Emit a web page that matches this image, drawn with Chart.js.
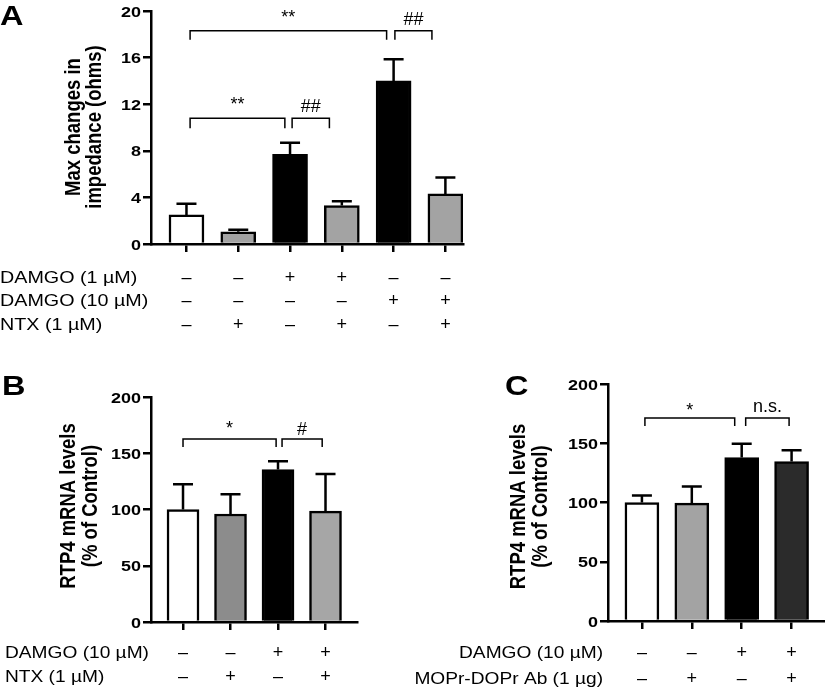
<!DOCTYPE html>
<html>
<head>
<meta charset="utf-8">
<script src="https://cdn.jsdelivr.net/npm/chart.js@4.4.1/dist/chart.umd.min.js"></script>
<style>
  body { margin: 0; background: #fff; }
  #wrap { position: relative; width: 825px; height: 690px; }
  #wrap canvas { position: absolute; left: 0; top: 0; }
</style>
</head>
<body>
<div id="wrap">
  <canvas id="chartA" width="825" height="690"></canvas>
  <canvas id="chartB" width="825" height="690"></canvas>
  <canvas id="chartC" width="825" height="690"></canvas>
</div>
<script>
// ---- panel A: impedance ----
const damgo1A = ['–', '–', '+', '+', '–', '–'];
const damgo10A = ['–', '–', '–', '–', '+', '+'];
const ntxA = ['–', '+', '–', '+', '–', '+'];
const meanA = [2.5, 1.05, 7.7, 3.3, 14.0, 4.3];
const semA = [0.95, 0.17, 1.0, 0.37, 1.85, 1.4];
const colorsA = ['#ffffff', '#a3a3a3', '#000000', '#a3a3a3', '#000000', '#a3a3a3'];

// ---- panel B: RTP4 mRNA, NTX ----
const damgo10B = ['–', '–', '+', '+'];
const ntxB = ['–', '+', '–', '+'];
const meanB = [100, 96, 135.5, 98.5];
const semB = [22.5, 17.5, 7.3, 33];
const colorsB = ['#ffffff', '#8c8c8c', '#000000', '#a6a6a6'];

// ---- panel C: RTP4 mRNA, MOPr-DOPr antibody ----
const damgo10C = ['–', '–', '+', '+'];
const abC = ['–', '+', '–', '+'];
const meanC = [100, 99.5, 138, 134.5];
const semC = [6, 14, 11.5, 9.5];
const colorsC = ['#ffffff', '#a3a3a3', '#000000', '#2b2b2b'];

const FONT = "'Liberation Sans', Arial, Helvetica, sans-serif";
const STRETCH = 1.16; // the figure is a bit wider than tall

function drawText(ctx, text, x, y, o) {
    ctx.save();
    ctx.translate(x, y);
    if (o.rotate) {
        ctx.rotate(-Math.PI / 2);
        ctx.scale(1, o.sx || 1);
    } else {
        ctx.scale(o.sx || 1, 1);
    }
    ctx.font = (o.bold ? 'bold ' : '') + o.size + 'px ' + FONT;
    ctx.textAlign = o.align || 'left';
    ctx.textBaseline = o.baseline || 'alphabetic';
    ctx.fillStyle = '#000';
    ctx.fillText(text, 0, 0);
    ctx.restore();
}

function extrasPlugin(p) {
    return {
        id: 'extras' + p.letter,
        afterDraw(chart) {
            const ctx = chart.ctx;
            const xs = chart.scales.x, ys = chart.scales.y;
            ctx.save();
            ctx.strokeStyle = '#000';

            // y tick labels, stretched like the rest of the figure text
            ys.ticks.forEach(t => {
                const py = ys.getPixelForValue(t.value);
                drawText(ctx, String(t.value), ys.right - 10, py + 5.6, { size: 15.5, bold: true, align: 'right', sx: STRETCH });
            });

            // error bars (mean + SEM)
            ctx.lineWidth = 2.5;
            p.mean.forEach((m, i) => {
                const px = xs.getPixelForValue(i);
                const y0 = ys.getPixelForValue(m);
                const y1 = ys.getPixelForValue(m + p.sem[i]);
                ctx.beginPath();
                ctx.moveTo(px, y0);
                ctx.lineTo(px, y1);
                ctx.moveTo(px - 10, y1);
                ctx.lineTo(px + 10, y1);
                ctx.stroke();
            });

            // significance brackets
            ctx.lineWidth = 1.5;
            p.brackets.forEach(b => {
                const x1 = xs.getPixelForValue(b.from);
                const x2 = xs.getPixelForValue(b.to);
                const yt = ys.getPixelForValue(b.y);
                ctx.beginPath();
                ctx.moveTo(x1, yt + b.leg);
                ctx.lineTo(x1, yt);
                ctx.lineTo(x2, yt);
                ctx.lineTo(x2, yt + b.leg);
                ctx.stroke();
                drawText(ctx, b.text, (x1 + x2) / 2, yt - b.lift, { size: 18, align: 'center' });
            });

            // treatment rows under the axis
            p.rows.forEach(r => {
                drawText(ctx, r.label, p.labelX, r.y, { size: p.labelSize, align: p.labelAlign, sx: STRETCH });
                r.signs.forEach((s, i) => {
                    drawText(ctx, s, xs.getPixelForValue(i), r.y, { size: 18, align: 'center' });
                });
            });

            // y axis title, two lines
            p.title.forEach((t, i) => {
                drawText(ctx, t, p.titleX[i], p.titleY, { size: 18.5, bold: true, align: 'center', rotate: true, sx: STRETCH });
            });

            // panel letter
            drawText(ctx, p.letter, p.letterX, p.letterY, { size: 28, bold: true, sx: STRETCH });
            ctx.restore();
        }
    };
}

function makeChart(id, p) {
    const config = {
        type: 'bar',
        data: {
            datasets: [{
                data: p.mean.map((v, i) => ({ x: i, y: v })),
                backgroundColor: p.colors,
                borderColor: '#000',
                borderWidth: 2.5,
                barThickness: p.barWidth
            }]
        },
        options: {
            responsive: false,
            animation: false,
            devicePixelRatio: 1,
            layout: { padding: p.padding },
            plugins: {
                legend: { display: false },
                tooltip: { enabled: false }
            },
            scales: {
                x: {
                    type: 'linear',
                    offset: false,
                    min: p.xMin,
                    max: p.xMax,
                    afterBuildTicks: s => { s.ticks = p.mean.map((_, i) => ({ value: i })); },
                    afterFit: s => { s.height = 10; },
                    ticks: { display: false },
                    grid: { offset: false, drawOnChartArea: false, tickLength: 8, color: '#000', lineWidth: 2.5 },
                    border: { color: '#000', width: 2.5 }
                },
                y: {
                    min: 0,
                    max: p.yMax,
                    afterFit: s => { s.width = p.yWidth; },
                    ticks: { display: false, stepSize: p.yStep },
                    grid: { drawOnChartArea: false, tickLength: 8, color: '#000', lineWidth: 2.5 },
                    border: { color: '#000', width: 2.5 }
                }
            }
        },
        plugins: [extrasPlugin(p)]
    };
    return new Chart(document.getElementById(id), config);
}

makeChart('chartA', {
    letter: 'A', letterX: 0, letterY: 25,
    mean: meanA, sem: semA, colors: colorsA, barWidth: 35,
    xMin: -0.685, xMax: 5.34, yMax: 20, yStep: 4, yWidth: 151,
    padding: { left: 0, top: 11, right: 362, bottom: 436 },
    title: ['Max changes in', 'impedance (ohms)'], titleX: [80, 101], titleY: 127,
    brackets: [
        { from: 0.07, to: 1.9, y: 10.8, leg: 10, text: '**', lift: 8.5 },
        { from: 2.04, to: 2.76, y: 10.8, leg: 10, text: '##', lift: 6.5 },
        { from: 0.07, to: 3.865, y: 18.3, leg: 9, text: '**', lift: 8 },
        { from: 4.025, to: 4.74, y: 18.3, leg: 9, text: '##', lift: 6 }
    ],
    labelX: 0, labelAlign: 'left', labelSize: 17,
    rows: [
        { label: 'DAMGO (1 µM)', signs: damgo1A, y: 283 },
        { label: 'DAMGO (10 µM)', signs: damgo10A, y: 306 },
        { label: 'NTX (1 µM)', signs: ntxA, y: 330 }
    ]
});

makeChart('chartB', {
    letter: 'B', letterX: 2, letterY: 395,
    mean: meanB, sem: semB, colors: colorsB, barWidth: 32,
    xMin: -0.674, xMax: 3.663, yMax: 200, yStep: 50, yWidth: 151,
    padding: { left: 0, top: 397, right: 468, bottom: 58 },
    title: ['RTP4 mRNA levels', '(% of Control)'], titleX: [75, 96.5], titleY: 506,
    brackets: [
        { from: 0, to: 1.96, y: 162.7, leg: 8, text: '*', lift: 4.5 },
        { from: 2.085, to: 2.93, y: 162.7, leg: 8, text: '#', lift: 4 }
    ],
    labelX: 5, labelAlign: 'left', labelSize: 16.5,
    rows: [
        { label: 'DAMGO (10 µM)', signs: damgo10B, y: 658 },
        { label: 'NTX (1 µM)', signs: ntxB, y: 682 }
    ]
});

makeChart('chartC', {
    letter: 'C', letterX: 505, letterY: 395,
    mean: meanC, sem: semC, colors: colorsC, barWidth: 34,
    xMin: -0.68, xMax: 3.67, yMax: 200, yStep: 50, yWidth: 608,
    padding: { left: 0, top: 384, right: 0, bottom: 59 },
    title: ['RTP4 mRNA levels', '(% of Control)'], titleX: [525, 546.5], titleY: 506.5,
    brackets: [
        { from: 0.06, to: 1.86, y: 171.3, leg: 8, text: '*', lift: 2 },
        { from: 2.08, to: 2.95, y: 171.3, leg: 8, text: 'n.s.', lift: 6 }
    ],
    labelX: 603, labelAlign: 'right', labelSize: 16.5,
    rows: [
        { label: 'DAMGO (10 µM)', signs: damgo10C, y: 658 },
        { label: 'MOPr-DOPr Ab (1 µg)', signs: abC, y: 684 }
    ]
});
</script>
</body>
</html>
